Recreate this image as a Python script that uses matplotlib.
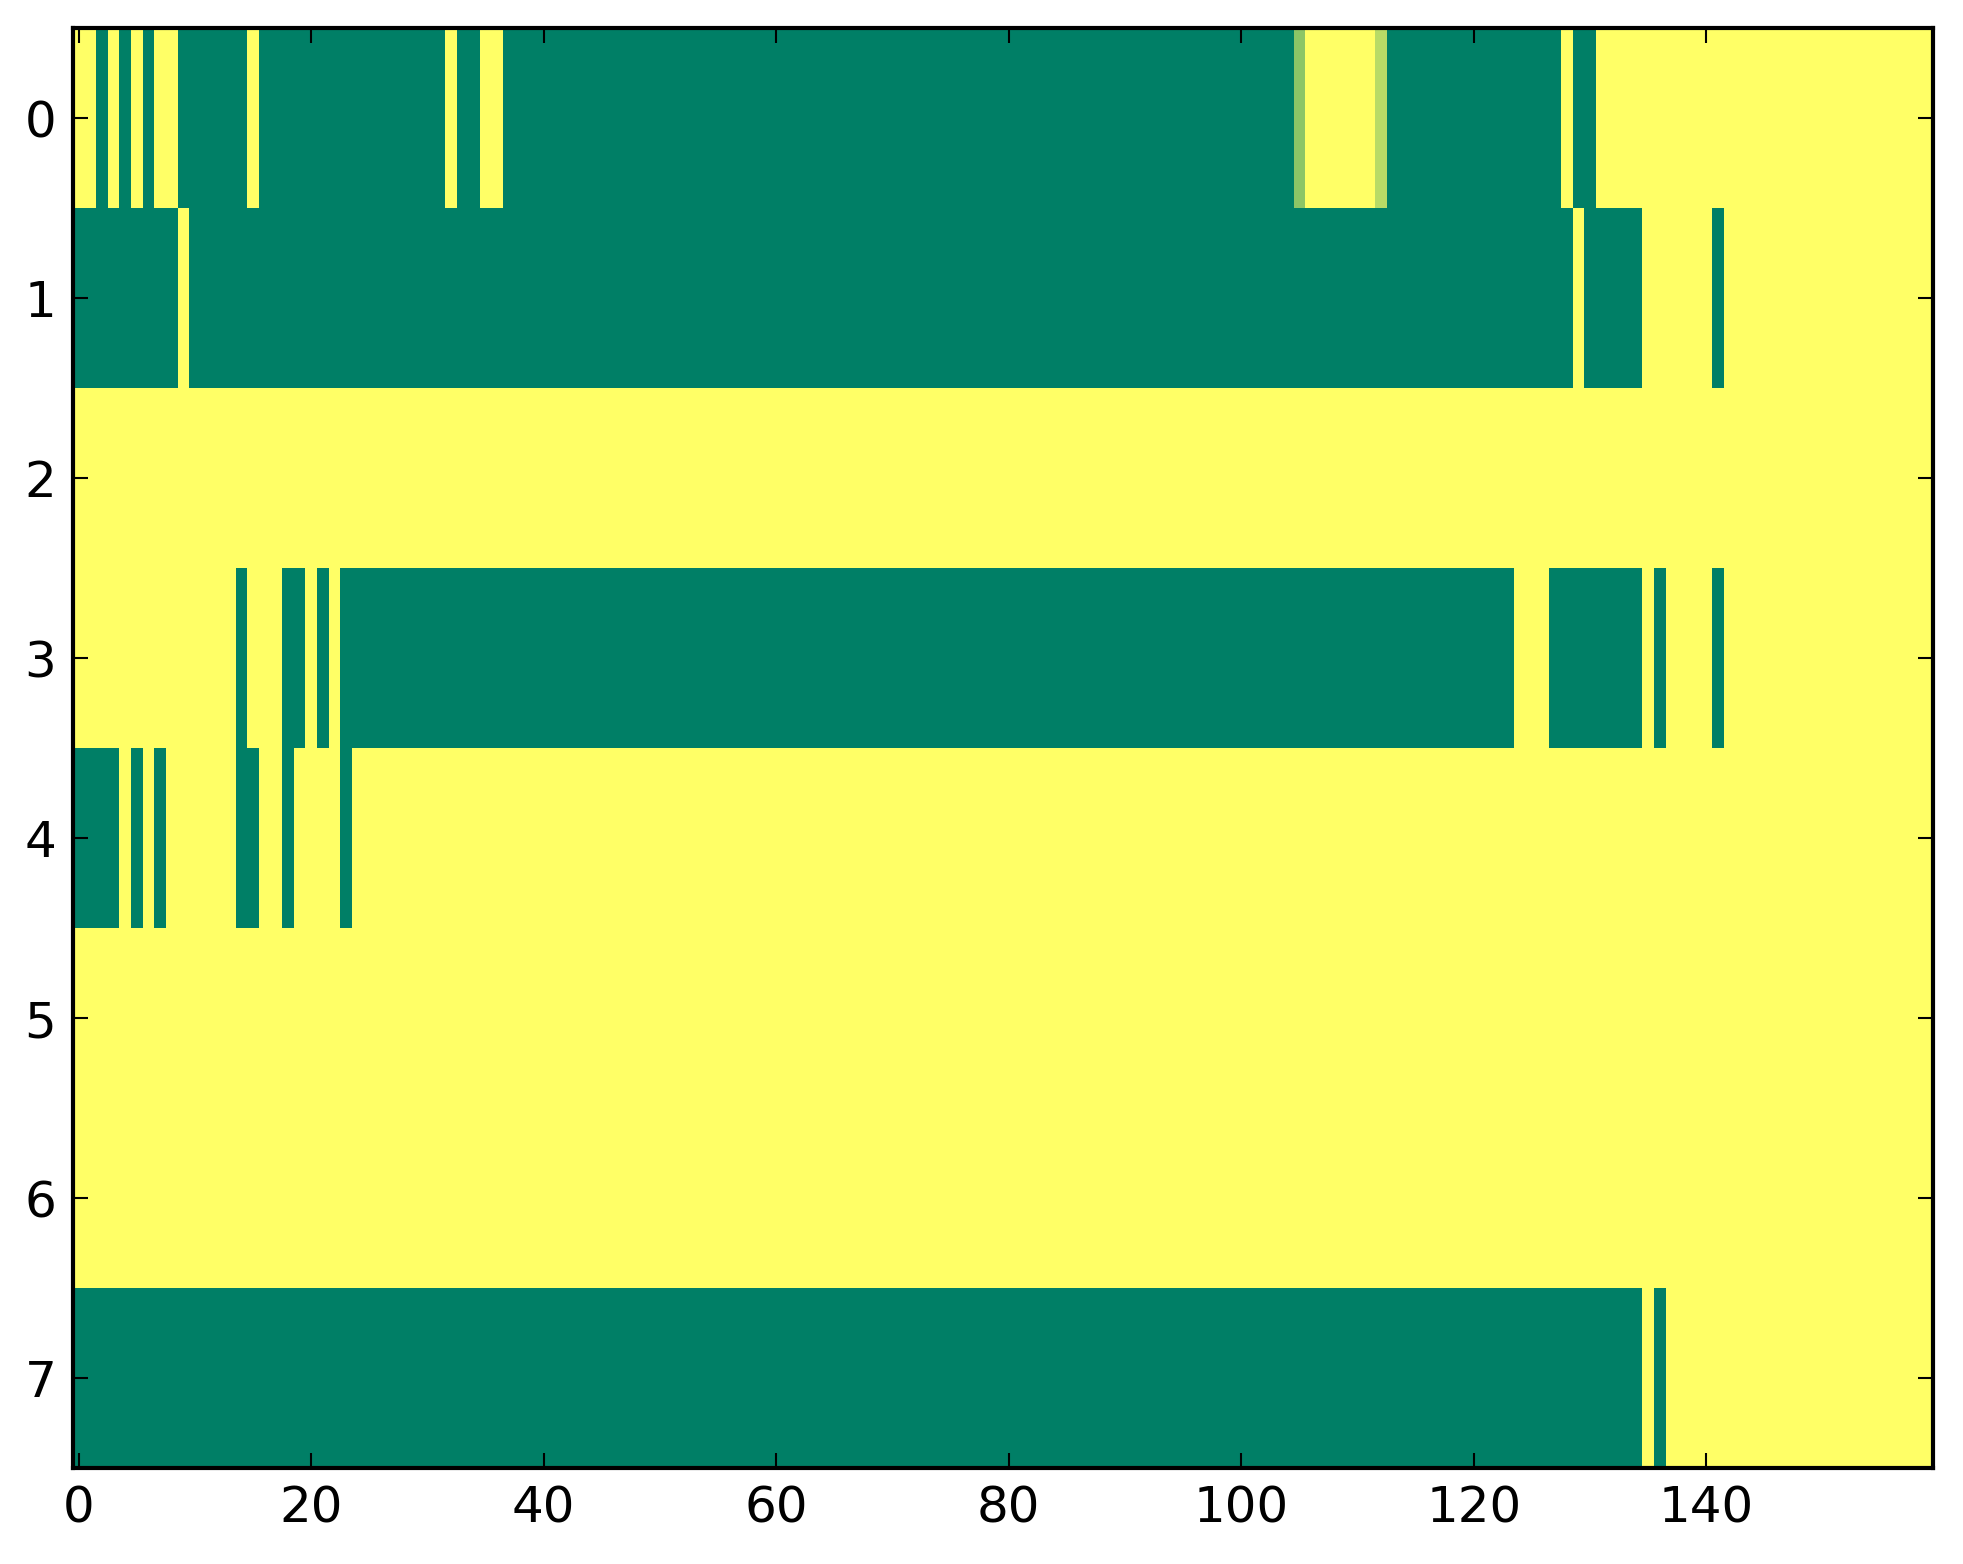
import numpy as np
import matplotlib
matplotlib.use("Agg")
import matplotlib.pyplot as plt

# Run-length description of each row: (value, number of columns)
row0 = [(1, 2), (0, 1), (1, 1), (0, 1), (1, 1), (0, 1), (1, 2), (0, 6), (1, 1),
        (0, 16), (1, 1), (0, 2), (1, 2), (0, 68), (0.55, 1), (1, 6), (0.72, 1),
        (0, 15), (1, 1), (0, 2), (1, 29)]
row1 = [(0, 9), (1, 1), (0, 119), (1, 1), (0, 5), (1, 6), (0, 1), (1, 18)]
row2 = [(1, 160)]
row3 = [(1, 14), (0, 1), (1, 3), (0, 2), (1, 1), (0, 1), (1, 1), (0, 101),
        (1, 3), (0, 8), (1, 1), (0, 1), (1, 4), (0, 1), (1, 18)]
row4 = [(0, 4), (1, 1), (0, 1), (1, 1), (0, 1), (1, 6), (0, 2), (1, 2),
        (0, 1), (1, 4), (0, 1), (1, 136)]
row5 = [(1, 160)]
row6 = [(1, 160)]
row7 = [(0, 135), (1, 1), (0, 1), (1, 23)]

rows = [row0, row1, row2, row3, row4, row5, row6, row7]
xticks = [0, 20, 40, 60, 80, 100, 120, 140]
yticks = [0, 1, 2, 3, 4, 5, 6, 7]


def expand(runs):
    out = []
    for v, n in runs:
        out.extend([v] * n)
    return out


data = np.array([expand(r) for r in rows], dtype=float)

fig = plt.figure(figsize=(1963 / 200, 1564 / 200), dpi=200)
ax = fig.add_axes([73 / 1963, 1 - 1468 / 1564, (1933 - 73) / 1963, (1468 - 28) / 1564])
ax.imshow(data, cmap="summer", vmin=0, vmax=1, aspect="auto", interpolation="nearest")

ax.set_xticks(xticks)
ax.set_yticks(yticks)
ax.tick_params(direction="in", top=True, right=True, length=5.4, width=0.75,
               labelsize=18, pad=6)
for s in ax.spines.values():
    s.set_linewidth(1.5)

fig.savefig("out.png", dpi=200)
